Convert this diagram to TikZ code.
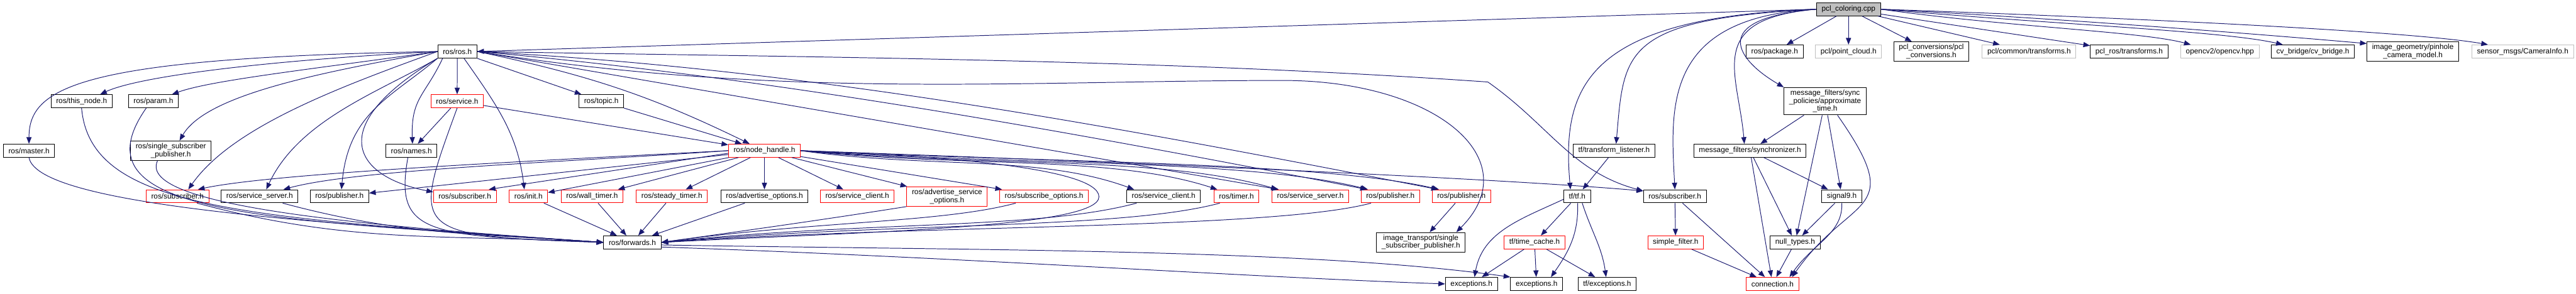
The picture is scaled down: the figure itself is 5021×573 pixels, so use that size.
\documentclass[tikz,border=0pt]{standalone}
\usepackage{fontspec}
\setmainfont{Liberation Sans}
\usetikzlibrary{arrows.meta, positioning}
\definecolor{edgeblue}{HTML}{191970}
\definecolor{boxgray}{HTML}{BFBFBF}
\definecolor{boxred}{HTML}{FF0000}
\newdimen\px
\px=0.08pt

\begin{document}
\begin{tikzpicture}[
    x=0.08pt, y=0.08pt,
    hbox/.style={rectangle, draw=black, line width=1.2\px, fill=white, align=center, inner xsep=10\px, inner ysep=4.5\px, minimum height=25.6\px, font=\fontsize{1.16pt}{1.24pt}\selectfont},
    hboxred/.style={hbox, draw=boxred},
    hboxext/.style={hbox, draw=boxgray},
    hboxroot/.style={hbox, fill=boxgray},
    arrow/.style={-{Triangle[length=1.04pt, width=0.8pt]}, line width=1.2\px, draw=edgeblue},
]
\useasboundingbox (0,0) rectangle (5021,-573);

% Source file
\node[hboxroot] (root) at (3603,-18) {pcl\_coloring.cpp};

% Direct includes
\node[hbox]    (rosros)     at (891.5,-100.5) {ros/ros.h};
\node[hbox]    (package)    at (3459,-100.5) {ros/package.h};
\node[hboxext] (pointcloud) at (3603,-100.5) {pcl/point\_cloud.h};
\node[hbox]    (pclconv)    at (3764.5,-100.5) {pcl\_conversions/pcl\\\_conversions.h};
\node[hboxext] (commontf)   at (3955,-100.5) {pcl/common/transforms.h};
\node[hbox]    (pclrostf)   at (4150,-100.5) {pcl\_ros/transforms.h};
\node[hboxext] (opencv)     at (4327,-100.5) {opencv2/opencv.hpp};
\node[hbox]    (cvbridge)   at (4508,-100.5) {cv\_bridge/cv\_bridge.h};
\node[hbox]    (pinhole)    at (4703,-100.5) {image\_geometry/pinhole\\\_camera\_model.h};
\node[hboxext] (camerainfo) at (4917,-100.5) {sensor\_msgs/CameraInfo.h};

% Second level
\node[hbox]    (thisnode) at (159,-197.5) {ros/this\_node.h};
\node[hbox]    (param)    at (299,-197.5) {ros/param.h};
\node[hboxred] (service)  at (891,-197.5) {ros/service.h};
\node[hbox]    (topic)    at (1172,-197.5) {ros/topic.h};
\node[hbox]    (approx)   at (3557.5,-197.5) {message\_filters/sync\\\_policies/approximate\\\_time.h};

% Third level
\node[hbox]    (master)     at (56.5,-294) {ros/master.h};
\node[hbox]    (ssp)        at (333,-294) {ros/single\_subscriber\\\_publisher.h};
\node[hbox]    (names)      at (802,-294) {ros/names.h};
\node[hboxred] (nodehandle) at (1490,-294) {ros/node\_handle.h};
\node[hbox]    (tflistener) at (3146,-294) {tf/transform\_listener.h};
\node[hbox]    (sync)       at (3411,-294) {message\_filters/synchronizer.h};

% Fourth level
\node[hboxred] (subA)        at (346,-383) {ros/subscriber.h};
\node[hbox]    (srvserverA)  at (506,-383) {ros/service\_server.h};
\node[hbox]    (pubA)        at (661.6,-383) {ros/publisher.h};
\node[hboxred] (subB)        at (906,-383) {ros/subscriber.h};
\node[hboxred] (init)        at (1030,-383) {ros/init.h};
\node[hboxred] (walltimer)   at (1154,-383) {ros/wall\_timer.h};
\node[hboxred] (steadytimer) at (1309.5,-383) {ros/steady\_timer.h};
\node[hbox]    (advopts)     at (1490,-383) {ros/advertise\_options.h};
\node[hboxred] (srvclientA)  at (1671,-383) {ros/service\_client.h};
\node[hboxred] (advsrvopts)  at (1846,-383.5) {ros/advertise\_service\\\_options.h};
\node[hboxred] (subopts)     at (2035,-383) {ros/subscribe\_options.h};
\node[hbox]    (srvclientB)  at (2268,-383) {ros/service\_client.h};
\node[hboxred] (timer)       at (2410,-383) {ros/timer.h};
\node[hboxred] (srvserverB)  at (2554,-383) {ros/service\_server.h};
\node[hboxred] (pubB)        at (2710,-383) {ros/publisher.h};
\node[hboxred] (pubC)        at (2848.5,-383) {ros/publisher.h};
\node[hbox]    (tf)          at (3074,-383) {tf/tf.h};
\node[hbox]    (subC)        at (3264.6,-383) {ros/subscriber.h};
\node[hbox]    (signal)      at (3590,-383) {signal9.h};

% Fifth level
\node[hbox]    (forwards)     at (1232.6,-473) {ros/forwards.h};
\node[hbox]    (itssp)        at (2769.4,-472.6) {image\_transport/single\\\_subscriber\_publisher.h};
\node[hboxred] (timecache)    at (2991,-473) {tf/time\_cache.h};
\node[hboxred] (simplefilter) at (3266,-473) {simple\_filter.h};
\node[hbox]    (nulltypes)    at (3499,-473) {null\_types.h};

% Bottom level
\node[hbox]    (excA)       at (2868,-554) {exceptions.h};
\node[hbox]    (excB)       at (2995,-554) {exceptions.h};
\node[hbox]    (tfexc)      at (3132.5,-554) {tf/exceptions.h};
\node[hboxred] (connection) at (3455,-554) {connection.h};

% Turning points of the long connectors
\coordinate (wsub)     at (2900,-160);
\coordinate (wits)     at (2500,-157);
\coordinate (loopturn) at (2142,-384);

% Arrows: pcl_coloring.cpp
\draw[arrow] (root.west) -- (rosros.east);
\draw[arrow] (root) -- (package);
\draw[arrow] (root) -- (pointcloud);
\draw[arrow] (root) -- (pclconv);
\draw[arrow] (root) -- (commontf);
\draw[arrow] (root) -- (pclrostf);
\draw[arrow] (root.east) to[out=-8,in=165,out distance=250\px,in distance=100\px] ([xshift=20\px]opencv.north west);
\draw[arrow] (root.east) to[out=-5,in=167,out distance=350\px,in distance=120\px] ([xshift=23\px]cvbridge.north west);
\draw[arrow] (root.east) to[out=-3,in=175,out distance=400\px,in distance=150\px] ([yshift=-4\px]pinhole.north west);
\draw[arrow] (root.east) to[out=-2,in=170,out distance=500\px,in distance=150\px] ([xshift=32\px]camerainfo.north west);
\draw[arrow] (root.west) to[out=185,in=150,out distance=220\px,in distance=100\px] (approx.north west);
\draw[arrow] (root.west) to[out=185,in=95,out distance=220\px,in distance=140\px] ([xshift=-11\px]sync.north);
\draw[arrow] (root.west) to[out=183,in=93,out distance=300\px,in distance=160\px] (subC.north);
\draw[arrow] (root.west) to[out=183,in=85,out distance=380\px,in distance=180\px] ([xshift=4\px]tflistener.north);
\draw[arrow] (root.west) to[out=182,in=95,out distance=450\px,in distance=200\px] ([xshift=-13\px]tf.north);

% Arrows: ros/ros.h
\draw[arrow] (rosros.west) to[out=181,in=90,out distance=700\px,in distance=110\px] (master.north);
\draw[arrow] (rosros.west) to[out=183,in=25,out distance=350\px,in distance=80\px] ([xshift=-24\px]thisnode.north east);
\draw[arrow] (rosros.west) to[out=188,in=20,out distance=250\px,in distance=80\px] ([xshift=-13\px]param.north east);
\draw[arrow] (rosros.west) to[out=190,in=60,out distance=250\px,in distance=100\px] ([xshift=17\px]ssp.north);
\draw[arrow] (rosros.west) to[out=200,in=55,out distance=200\px,in distance=150\px] ([xshift=21\px]subA.north);
\draw[arrow] (rosros.south west) to[out=210,in=65,out distance=130\px,in distance=150\px] ([xshift=13\px]srvserverA.north);
\draw[arrow] (rosros.south west) to[out=220,in=85,out distance=120\px,in distance=150\px] ([xshift=4\px]pubA.north);
\draw[arrow] (rosros.south west) to[out=211,in=169,out distance=265\px,in distance=153\px] ([yshift=-5\px]subB.north west);
\draw[arrow] ([xshift=10\px]rosros.south west) to[out=-115,in=92,out distance=80\px,in distance=90\px] ([xshift=2\px]names.north);
\draw[arrow] (rosros) -- (service);
\draw[arrow] ([xshift=13\px]rosros.south) to[out=-55,in=97] ([xshift=-8\px]init.north);
\draw[arrow] (rosros) -- (topic);
\draw[arrow] (rosros.east) to[out=-12,in=154] ([xshift=-29\px]nodehandle.north);
\draw[arrow] (rosros.east) to[out=-1,in=176,out distance=650\px,in distance=650\px] (wsub) to[out=-35,in=165] ([yshift=-3\px]subC.north west);
\draw[arrow] (rosros.east) to[out=-9,in=180,out distance=600\px,in distance=500\px] (wits) to[out=0,in=45,out distance=300\px,in distance=200\px] ([xshift=-18\px]itssp.north east);
\draw[arrow] (rosros.east) to[out=-3,in=169,out distance=650\px,in distance=650\px] ([xshift=12\px]pubC.north west);
\draw[arrow] (rosros.east) to[out=-5,in=169,out distance=580\px,in distance=580\px] ([xshift=12\px]pubB.north west);
\draw[arrow] (rosros.east) -- ([xshift=14\px]srvserverB.north west);

% Arrows: second level
\draw[arrow] (service) -- (nodehandle);
\draw[arrow] (service) -- (names);
\draw[arrow] (topic) -- (nodehandle);

% Arrows: ros/node_handle.h
\draw[arrow] (nodehandle.west) to[out=183,in=12,in distance=150\px] ([xshift=-22\px]subA.north east);
\draw[arrow] (nodehandle.west) to[out=184,in=15,in distance=150\px] ([xshift=-29\px]srvserverA.north east);
\draw[arrow] (nodehandle) -- (pubA);
\draw[arrow] ([yshift=-5\px]nodehandle.west) -- ([xshift=-15\px]subB.north east);
\draw[arrow] (nodehandle) -- (init);
\draw[arrow] (nodehandle) -- (walltimer);
\draw[arrow] (nodehandle) -- (steadytimer);
\draw[arrow] (nodehandle) -- (advopts);
\draw[arrow] (nodehandle) -- (srvclientA);
\draw[arrow] (nodehandle) -- (advsrvopts);
\draw[arrow] (nodehandle) -- (subopts);
\draw[arrow] (nodehandle.east) to[out=-8,in=160,in distance=200\px] ([xshift=15\px]srvclientB.north west);
\draw[arrow] (nodehandle.east) to[out=-6,in=162,in distance=220\px] ([xshift=7\px]timer.north west);
\draw[arrow] (nodehandle.east) to[out=-5,in=164,in distance=240\px] ([xshift=12\px]srvserverB.north west);
\draw[arrow] (nodehandle.east) to[out=-4,in=166,out distance=400\px,in distance=250\px] ([xshift=14\px]pubB.north west);
\draw[arrow] (nodehandle.east) to[out=-3,in=167,out distance=420\px,in distance=250\px] ([xshift=14\px]pubC.north west);
\draw[arrow] (nodehandle.east) to[out=-2,in=175,out distance=550\px,in distance=300\px] ([yshift=-3\px]subC.north west);
\draw[arrow] (nodehandle.east) to[out=-2,in=90,out distance=230\px,in distance=60\px] (loopturn) to[out=-90,in=3,out distance=60\px,in distance=400\px] (forwards.east);

% Arrows: into ros/forwards.h
\draw[arrow] (master.south) to[out=-80,in=176,out distance=100\px,in distance=500\px] (forwards.west);
\draw[arrow] (thisnode.south) to[out=-85,in=176,out distance=200\px,in distance=700\px] (forwards.west);
\draw[arrow] ([xshift=-14\px]param.south) to[out=-125,in=176,out distance=260\px,in distance=650\px] (forwards.west);
\draw[arrow] ([xshift=-26\px]ssp.south) to[out=-115,in=176,out distance=100\px,in distance=450\px] (forwards.west);
\draw[arrow] ([xshift=38\px]subA.south) to[out=-15,in=177] (forwards.west);
\draw[arrow] ([xshift=45\px]srvserverA.south) to[out=-15,in=176] (forwards.west);
\draw[arrow] ([xshift=-7\px]names.south) to[out=-100,in=178,out distance=150\px,in distance=350\px] (forwards.west);
\draw[arrow] (service.south) to[out=-110,in=178,out distance=260\px,in distance=380\px] (forwards.west);
\draw[arrow] (init) -- (forwards);
\draw[arrow] (walltimer) -- (forwards);
\draw[arrow] (steadytimer) -- (forwards);
\draw[arrow] (advopts) -- (forwards);
\draw[arrow] (advsrvopts.south west) to[out=189,in=8,out distance=150\px,in distance=200\px] (forwards.east);
\draw[arrow] ([xshift=32\px]subopts.south west) to[out=195,in=8,out distance=150\px,in distance=300\px] (forwards.east);
\draw[arrow] ([xshift=20\px]srvclientB.south west) to[out=195,in=6,out distance=200\px,in distance=400\px] (forwards.east);
\draw[arrow] ([xshift=12\px]timer.south west) to[out=195,in=5,out distance=200\px,in distance=450\px] (forwards.east);
\draw[arrow] ([xshift=20\px]pubB.south west) to[out=195,in=4,out distance=200\px,in distance=500\px] (forwards.east);

% Arrows: ros/forwards.h
\draw[arrow] ([yshift=-5\px]forwards.east) to[out=-1,in=172,out distance=600\px,in distance=400\px] (excB.north west);
\draw[arrow] ([yshift=-9\px]forwards.east) to[out=-2,in=178,out distance=600\px,in distance=400\px] (excA.west);
\draw[arrow] (pubC) -- (itssp);

% Arrows: tf
\draw[arrow] (tflistener) -- (tf);
\draw[arrow] ([yshift=-6\px]tf.west) to[out=205,in=80] ([xshift=6\px]excA.north);
\draw[arrow] (tf) -- (timecache);
\draw[arrow] ([xshift=1\px]tf.south) to[out=-88,in=55] ([xshift=28\px]excB.north);
\draw[arrow] ([xshift=10\px]tf.south) to[out=-72,in=98] ([xshift=-2\px]tfexc.north);
\draw[arrow] (timecache) -- (excA);
\draw[arrow] (timecache) -- (excB);
\draw[arrow] (timecache) -- (tfexc);

% Arrows: message_filters
\draw[arrow] (subC) -- (simplefilter);
\draw[arrow] (subC) -- (connection);
\draw[arrow] (simplefilter) -- (connection);
\draw[arrow] (approx) -- (sync);
\draw[arrow] (approx) -- (nulltypes);
\draw[arrow] (approx) -- (signal);
\draw[arrow] ([xshift=24\px]approx.south) to[out=-55,in=55,out distance=240\px,in distance=200\px] ([xshift=38\px]connection.north);
\draw[arrow] (sync) -- (signal);
\draw[arrow] (sync) -- (nulltypes);
\draw[arrow] (sync) -- (connection);
\draw[arrow] (signal) -- (nulltypes);
\draw[arrow] (signal.south) to[out=-88,in=55,out distance=60\px,in distance=80\px] ([xshift=33\px]connection.north);
\draw[arrow] (nulltypes) -- (connection);

\end{tikzpicture}
\end{document}
